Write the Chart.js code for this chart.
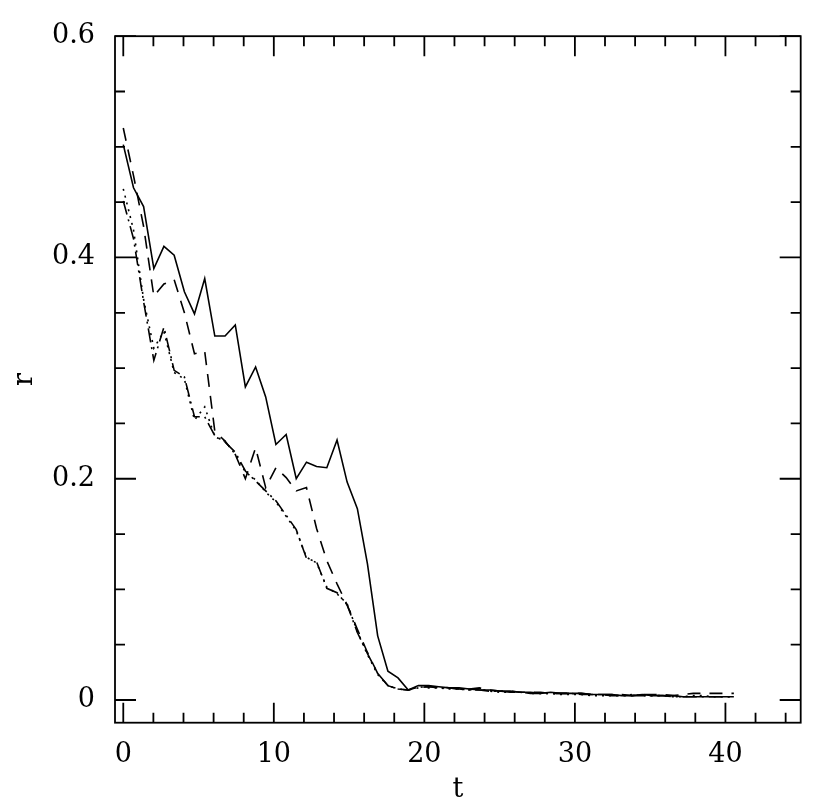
<!DOCTYPE html>
<html>
<head>
<meta charset="utf-8">
<script src="https://cdn.jsdelivr.net/npm/chart.js@4.4.1/dist/chart.umd.min.js"></script>
<style>
  html, body { margin: 0; padding: 0; background: #fff; }
  #wrap { width: 830px; height: 804px; }
</style>
</head>
<body>
<div id="wrap"><canvas id="chart" width="830" height="804"></canvas></div>
<script>
// time samples
const t = [0, 0.68, 1.35, 2.03, 2.70, 3.38, 4.06, 4.73, 5.41, 6.08, 6.76, 7.44, 8.11, 8.79, 9.46,
  10.14, 10.82, 11.49, 12.17, 12.84, 13.52, 14.20, 14.87, 15.55, 16.22, 16.90, 17.58, 18.25, 18.93, 19.60,
  20.28, 20.96, 21.63, 22.31, 22.98, 23.66, 24.34, 25.01, 25.69, 26.36, 27.04, 27.72, 28.39, 29.07, 29.74,
  30.42, 31.10, 31.77, 32.45, 33.12, 33.80, 34.48, 35.15, 35.83, 36.50, 37.18, 37.86, 38.53, 39.21, 39.88, 40.56];

const rSolid = [0.502, 0.463, 0.446, 0.390, 0.410, 0.402, 0.369, 0.349, 0.381, 0.329, 0.329, 0.339, 0.283, 0.301, 0.274,
  0.231, 0.240, 0.200, 0.215, 0.211, 0.210, 0.235, 0.197, 0.173, 0.123, 0.058, 0.026, 0.020, 0.009, 0.013,
  0.013, 0.012, 0.011, 0.011, 0.010, 0.009, 0.009, 0.008, 0.008, 0.007, 0.007, 0.006, 0.007, 0.006, 0.006,
  0.006, 0.005, 0.005, 0.005, 0.004, 0.004, 0.005, 0.004, 0.004, 0.004, 0.003, 0.003, 0.003, 0.003, 0.003, 0.003];

const rDashed = [0.517, 0.474, 0.428, 0.365, 0.376, 0.380, 0.350, 0.313, 0.315, 0.243, 0.234, 0.222, 0.200, 0.228, 0.192,
  0.210, 0.201, 0.189, 0.192, 0.155, 0.126, 0.105, 0.086, 0.064, 0.043, 0.024, 0.013, 0.010, 0.009, 0.012,
  0.012, 0.012, 0.011, 0.010, 0.010, 0.011, 0.009, 0.008, 0.008, 0.007, 0.007, 0.007, 0.006, 0.006, 0.006,
  0.006, 0.005, 0.005, 0.005, 0.005, 0.004, 0.005, 0.005, 0.005, 0.004, 0.005, 0.006, 0.006, 0.006, 0.006, 0.006];

const rDashDot = [0.451, 0.417, 0.360, 0.307, 0.337, 0.298, 0.292, 0.256, 0.256, 0.239, 0.233, 0.224, 0.207, 0.198, 0.189,
  0.180, 0.167, 0.154, 0.128, 0.125, 0.101, 0.097, 0.086, 0.061, 0.042, 0.024, 0.013, 0.010, 0.009, 0.011,
  0.012, 0.011, 0.011, 0.010, 0.009, 0.009, 0.008, 0.008, 0.007, 0.007, 0.006, 0.006, 0.006, 0.006, 0.006,
  0.005, 0.005, 0.005, 0.004, 0.004, 0.004, 0.004, 0.004, 0.004, 0.003, 0.003, 0.003, 0.003, 0.003, 0.003, 0.003];

const rDotted = [0.462, 0.425, 0.362, 0.318, 0.333, 0.296, 0.290, 0.253, 0.265, 0.238, 0.234, 0.222, 0.206, 0.199, 0.188,
  0.179, 0.166, 0.153, 0.129, 0.124, 0.102, 0.096, 0.087, 0.062, 0.041, 0.023, 0.013, 0.010, 0.009, 0.012,
  0.011, 0.011, 0.010, 0.010, 0.009, 0.010, 0.008, 0.007, 0.007, 0.007, 0.006, 0.006, 0.006, 0.005, 0.005,
  0.005, 0.004, 0.004, 0.004, 0.004, 0.005, 0.004, 0.004, 0.004, 0.003, 0.003, 0.004, 0.004, 0.003, 0.003, 0.003];

// tick positions
const xMajorTicks = [0, 10, 20, 30, 40];
const xMinorTicks = [2, 4, 6, 8, 12, 14, 16, 18, 22, 24, 26, 28, 32, 34, 36, 38, 42, 44];
const yMajorTicks = [0, 0.2, 0.4, 0.6];
const yMinorTicks = [0.05, 0.1, 0.15, 0.25, 0.3, 0.35, 0.45, 0.5, 0.55];

const FONT = "'DejaVu Serif', serif";

function pts(ys) {
  return t.map((x, i) => ({ x: x, y: ys[i] }));
}

function lineSet(ys, dash) {
  return {
    data: pts(ys),
    borderColor: "#000",
    borderWidth: 1.6,
    borderDash: dash,
    pointRadius: 0,
    tension: 0,
    fill: false
  };
}

// frame with inward tick marks on all four sides
const framePlugin = {
  id: "frame",
  afterDraw(chart) {
    const { ctx, chartArea: a, scales } = chart;
    const xs = scales.x, ys = scales.y;
    ctx.save();
    ctx.strokeStyle = "#000";
    ctx.lineWidth = 1.8;
    ctx.strokeRect(a.left, a.top, a.right - a.left, a.bottom - a.top);
    ctx.beginPath();
    const xTick = (v, len) => {
      const p = xs.getPixelForValue(v);
      ctx.moveTo(p, a.bottom); ctx.lineTo(p, a.bottom - len);
      ctx.moveTo(p, a.top); ctx.lineTo(p, a.top + len);
    };
    const yTick = (v, len) => {
      const p = ys.getPixelForValue(v);
      ctx.moveTo(a.left, p); ctx.lineTo(a.left + len, p);
      ctx.moveTo(a.right, p); ctx.lineTo(a.right - len, p);
    };
    xMajorTicks.forEach(v => xTick(v, 20));
    xMinorTicks.forEach(v => xTick(v, 10));
    yMajorTicks.forEach(v => yTick(v, 21));
    yMinorTicks.forEach(v => yTick(v, 10));
    ctx.stroke();
    ctx.restore();
  }
};

new Chart(document.getElementById("chart"), {
  type: "line",
  data: {
    datasets: [
      lineSet(rSolid, []),
      lineSet(rDashed, [13, 9]),
      lineSet(rDashDot, [14, 5, 2, 5]),
      lineSet(rDotted, [2, 5])
    ]
  },
  options: {
    responsive: false,
    animation: false,
    events: [],
    layout: { padding: { left: 0, top: 35, right: 29.3, bottom: 0 } },
    plugins: {
      legend: { display: false },
      tooltip: { enabled: false }
    },
    scales: {
      x: {
        type: "linear",
        min: -0.55,
        max: 45,
        afterBuildTicks: s => { s.ticks = xMajorTicks.map(v => ({ value: v })); },
        afterFit: s => { s.height = 81.3; },
        grid: { display: false, drawTicks: false },
        border: { display: false },
        ticks: { color: "#000", padding: 16, maxRotation: 0, font: { family: FONT, size: 27 } },
        title: { display: true, text: "t", color: "#000", padding: { top: 0, bottom: -2 }, font: { family: FONT, size: 27 } }
      },
      y: {
        type: "linear",
        min: -0.0205,
        max: 0.6,
        afterBuildTicks: s => { s.ticks = yMajorTicks.map(v => ({ value: v })); },
        afterFit: s => { s.width = 115; },
        grid: { display: false, drawTicks: false },
        border: { display: false },
        ticks: { color: "#000", padding: 20, font: { family: FONT, size: 27 } },
        title: { display: true, text: "r", color: "#000", padding: { top: 9, bottom: 0 }, font: { family: FONT, size: 27 } }
      }
    }
  },
  plugins: [framePlugin]
});
</script>
</body>
</html>
